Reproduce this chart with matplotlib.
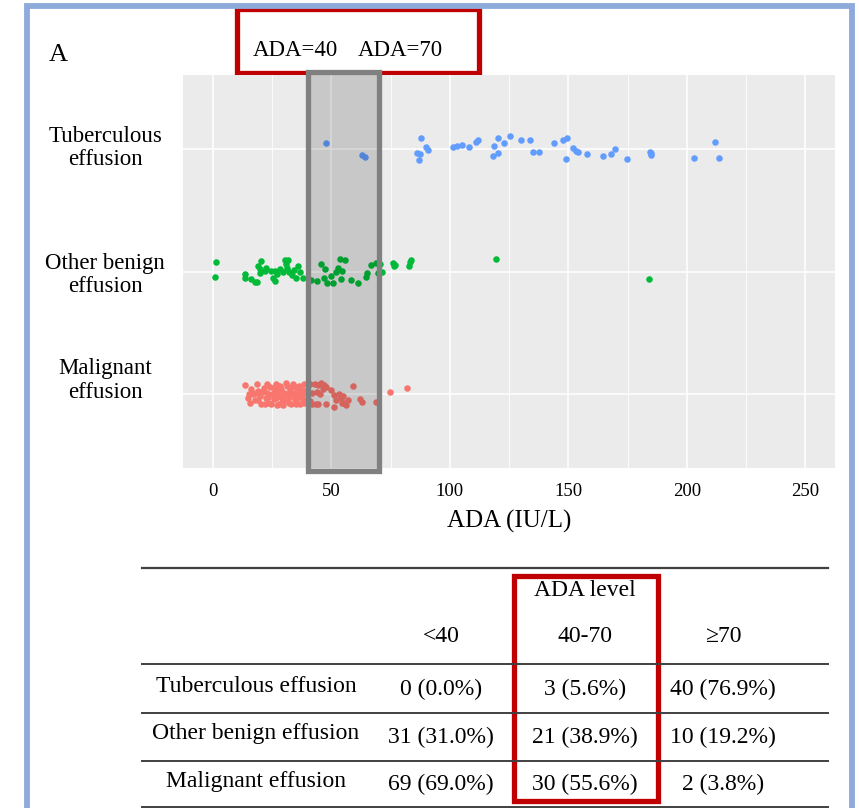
import matplotlib
matplotlib.use("Agg")
import matplotlib.pyplot as plt
import matplotlib.transforms as mtransforms
from matplotlib.patches import Rectangle
from matplotlib.lines import Line2D

plt.rcParams['font.family'] = ['Liberation Serif', 'DejaVu Serif']

# ---- data (ADA in IU/L, jitter in row units) ----
tb_ada = [47.9, 62.9, 64.0, 87.6, 86.1, 87.0, 89.8, 90.7, 101.3, 103.1, 105.1, 108.0,
          110.9, 111.9, 118.6, 118.1, 120.3, 120.5, 122.8, 125.2, 129.8, 134.0, 135.1,
          137.8, 143.9, 147.7, 149.4, 149.0, 151.9, 153.2, 154.1, 158.0, 164.8, 168.0,
          169.8, 174.8, 184.6, 184.8, 202.9, 211.7, 213.7, 87.3, 184.7]
tb_jit = [0.044, -0.054, -0.068, 0.090, -0.035, -0.093, 0.016, -0.011, 0.011, 0.022,
          0.030, 0.016, 0.054, 0.068, 0.024, -0.060, -0.033, 0.090, 0.044, 0.103, 0.068,
          0.071, -0.024, -0.030, 0.044, 0.071, 0.087, -0.082, 0.005, -0.019, -0.027,
          -0.041, -0.063, -0.046, -0.003, -0.084, -0.027, -0.049, -0.073, 0.054, -0.076,
          -0.040, -0.038]

ob_ada = [1.5, 0.9, 13.7, 13.7, 17.9, 18.8, 19.0, 20.3, 19.7, 21.8, 24.5, 26.0, 26.3,
          28.2, 29.6, 30.5, 31.6, 31.4, 32.2, 35.1, 36.0, 36.7, 37.8, 19.7, 22.5, 27.0,
          30.9, 33.5, 16.0, 25.3, 34.3,
          41.5, 43.9, 45.7, 47.3, 48.3, 49.7, 50.8, 51.9, 53.7, 55.8, 54.1, 54.5, 58.1,
          61.1, 64.5, 64.9, 66.7, 68.9, 69.8, 52.6, 47.0,
          76.1, 76.3, 82.6, 83.7, 119.4, 183.9, 70.5, 71.2, 77.0, 83.0]
ob_jit = [0.076, -0.041, -0.019, -0.049, -0.082, -0.082, 0.041, 0.082, -0.014, 0.005,
          0.005, -0.079, 0.005, 0.022, -0.003, 0.095, 0.090, 0.027, -0.008, -0.049, 0.041,
          -0.003, -0.054, 0.019, 0.030, -0.020, 0.060, -0.030, -0.060, -0.050, 0.010,
          -0.068, -0.076, 0.063, 0.019, -0.095, -0.035, -0.090, 0.000, 0.101, 0.095,
          -0.063, 0.005, -0.068, -0.090, -0.046, -0.014, 0.049, 0.073, -0.014, 0.030,
          -0.050,
          0.073, 0.041, 0.041, 0.095, 0.101, -0.057, 0.060, 0.000, 0.050, 0.080]

mal_ada = [13.7, 15.1, 15.5, 17.6, 18.6, 19.0, 19.7, 20.4, 21.4, 22.3, 22.8, 23.7, 24.2,
           25.1, 25.8, 26.5, 27.0, 27.6, 28.2, 28.6, 29.3, 29.9, 30.7, 31.0, 31.7, 32.4,
           33.0, 33.8, 34.4, 34.9, 35.5, 35.9, 36.3, 36.9, 37.5, 38.0, 38.6, 39.0, 39.4,
           16.2, 16.9, 20.8, 23.2, 26.1, 26.8, 27.9, 28.9, 30.3, 31.3, 32.1, 33.2, 34.1,
           35.2, 36.6, 37.7, 19.0, 21.8, 24.6, 25.6, 29.6, 32.7, 34.6, 38.3, 14.8, 18.0,
           23.0, 27.3, 31.8, 36.1,
           43.0, 43.9, 44.4, 43.4, 45.1, 46.8, 47.9, 47.6, 51.0, 51.0, 53.9, 54.9, 55.5,
           56.3, 58.9, 62.0, 63.1, 69.0, 40.8, 42.0, 41.1, 45.8, 46.5, 52.1, 54.6, 57.0,
           50.0, 44.4, 53.2, 42.0,
           74.6, 82.0]
mal_jit = [0.076, 0.005, -0.068, -0.049, 0.087, 0.027, -0.014, -0.082, 0.054, -0.033,
           0.014, -0.068, 0.060, 0.000, -0.041, 0.082, -0.087, 0.033, 0.068, -0.022,
           -0.060, 0.014, 0.093, 0.000, -0.033, 0.049, -0.076, 0.082, 0.014, -0.049,
           -0.022, 0.049, 0.068, -0.082, 0.000, 0.033, 0.082, -0.049, 0.014,
           0.041, 0.000, 0.022, -0.022, 0.022, -0.033, -0.076, 0.041, -0.049, 0.068,
           -0.068, 0.000, -0.033, -0.076, 0.022, -0.033, -0.049, -0.076, -0.082, 0.049,
           -0.087, 0.022, 0.060, -0.068, -0.027, 0.014, 0.082, 0.000, 0.014, 0.000,
           0.087, 0.022, 0.076, -0.076, 0.000, 0.076, 0.060, -0.076, -0.008, -0.101,
           -0.033, -0.016, -0.068, -0.087, 0.065, -0.041, -0.065, -0.060, 0.082, 0.014,
           -0.054, 0.095, 0.041, -0.049, -0.068, -0.049, 0.033, -0.082, 0.000, -0.082,
           0.019, 0.049]

groups = ['Malignant\neffusion', 'Other benign\neffusion', 'Tuberculous\neffusion']
group_colors = ['#F8766D', '#00BA38', '#619CFF']
cutoffs = [40, 70]
x_ticks = [0, 50, 100, 150, 200, 250]

# ---- table ----
tab_cols = ['<40', '40-70', '\u226570']
tab_rows = ['Tuberculous effusion', 'Other benign effusion', 'Malignant effusion']
tab_vals = [['0 (0.0%)', '3 (5.6%)', '40 (76.9%)'],
            ['31 (31.0%)', '21 (38.9%)', '10 (19.2%)'],
            ['69 (69.0%)', '30 (55.6%)', '2 (3.8%)']]

W, H = 859, 808
fx = lambda x: x / W
fy = lambda y: 1 - y / H

fig = plt.figure(figsize=(W / 100, H / 100), dpi=100)
ax = fig.add_axes([fx(183.3), fy(468), (835 - 183.3) / W, (468 - 75) / H])
ax.set_facecolor('#EBEBEB')

for i, (xs, js) in enumerate([(mal_ada, mal_jit), (ob_ada, ob_jit), (tb_ada, tb_jit)]):
    ys = [i + 1 + j for j in js]
    ax.scatter(xs, ys, s=22, color=group_colors[i], linewidths=0, zorder=3)

ax.set_xlim(-12.5, 262.5)
ax.set_ylim(0.4, 3.6)
ax.set_xticks(x_ticks)
ax.set_xticks([25, 75, 125, 175, 225], minor=True)
ax.set_yticks([1, 2, 3])
ax.set_yticklabels([])
ax.grid(True, which='major', color='white', lw=1.1, zorder=1)
ax.grid(True, which='minor', axis='x', color='white', lw=0.6, zorder=1)
ax.set_axisbelow(True)
for s in ax.spines.values():
    s.set_visible(False)
ax.tick_params(axis='both', which='both', length=0)
ax.tick_params(axis='x', labelsize=13.5, pad=11)
ax.set_xlabel('ADA (IU/L)', fontsize=18)
ax.xaxis.set_label_coords(0.5, -0.135)
ax.xaxis.label.set_va('center')

# category labels
blend = mtransforms.blended_transform_factory(ax.transAxes, ax.transData)
for lab, yy in zip(groups, [1.113, 1.971, 3.005]):
    ax.text(-0.12, yy, lab, transform=blend, ha='center', va='center',
            multialignment='center', fontsize=16.5, linespacing=1.15)

# grey window between the cutoffs
box_tr = mtransforms.blended_transform_factory(ax.transData, ax.transAxes)
ax.add_patch(Rectangle((cutoffs[0], -0.0064), cutoffs[1] - cutoffs[0], 1.0128,
                       transform=box_tr, facecolor=(0, 0, 0, 0.145), edgecolor='#808080',
                       lw=3.8, clip_on=False, zorder=5))

# red frame around the cutoff labels
fig.add_artist(Rectangle((fx(236.8), fy(72.5)), (478.5 - 236.8) / W, (72.5 - 8.5) / H,
                         transform=fig.transFigure, fill=False, ec='#C00000', lw=3.8, zorder=-1))
fig.text(fx(295), fy(51), 'ADA=%d' % cutoffs[0], ha='center', va='center', fontsize=16.5)
fig.text(fx(400), fy(51), 'ADA=%d' % cutoffs[1], ha='center', va='center', fontsize=16.5)
fig.text(fx(58), fy(55), 'A', ha='center', va='center', fontsize=19)

# outer light-blue frame
fig.add_artist(Rectangle((fx(27), fy(830)), (852 - 27) / W, (830 - 6) / H,
                         transform=fig.transFigure, fill=False, ec='#8EAADB', lw=4.2))

# table
x0, x1 = 142, 828
for yl, lw in [(568.3, 1.6), (664.3, 1.4), (712.7, 1.4), (761, 1.4), (807.3, 1.4)]:
    fig.add_artist(Line2D([fx(x0), fx(x1)], [fy(yl), fy(yl)], transform=fig.transFigure,
                          color='#404040', lw=lw))
col_x = [441, 585, 723]
fig.text(fx(585), fy(590), 'ADA level', ha='center', va='center', fontsize=17)
for cx, c in zip(col_x, tab_cols):
    fig.text(fx(cx), fy(637), c, ha='center', va='center', fontsize=17)
for ry, rname, vals in zip([688, 736, 783], tab_rows, tab_vals):
    fig.text(fx(256), fy(ry - 2), rname, ha='center', va='center', fontsize=17)
    for cx, v in zip(col_x, vals):
        fig.text(fx(cx), fy(ry + 1), v, ha='center', va='center', fontsize=17)

fig.add_artist(Rectangle((fx(514), fy(800.5)), (657.5 - 514) / W, (800.5 - 575.5) / H,
                         transform=fig.transFigure, fill=False, ec='#C00000', lw=3.8))

fig.savefig('out.png', dpi=100)
